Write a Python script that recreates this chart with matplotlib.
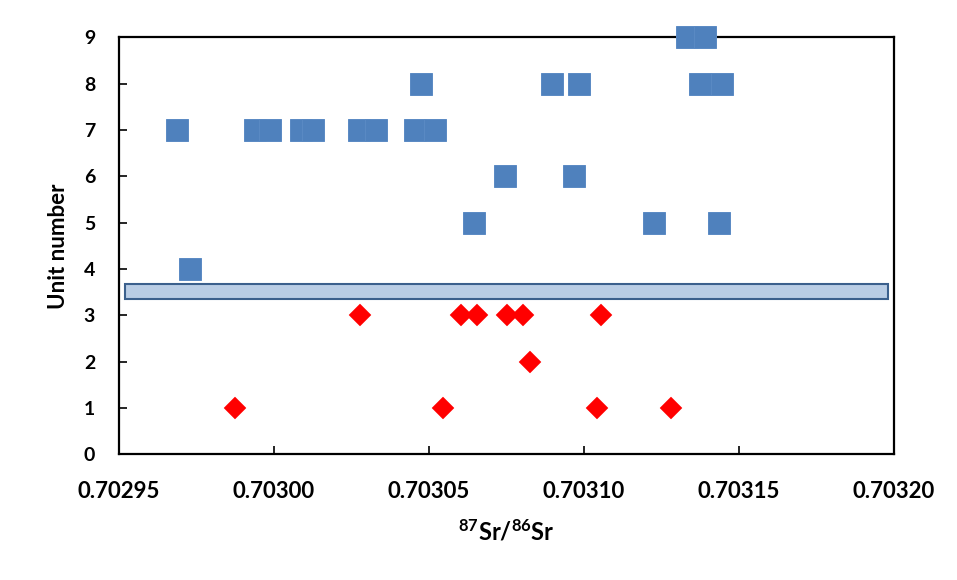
import matplotlib
matplotlib.use("Agg")
import matplotlib.pyplot as plt
from matplotlib.patches import Rectangle

# 87Sr/86Sr の値
upper_sr = [0.7029689, 0.7029941, 0.7029987, 0.7030089, 0.7030128, 0.7030274, 0.7030330,
            0.7030457, 0.7030519, 0.7029730, 0.7030474, 0.7030899, 0.7030986, 0.7031374,
            0.7031445, 0.7031332, 0.7031392, 0.7030746, 0.7030970, 0.7030647, 0.7031226,
            0.7031436]
upper_unit = [7, 7, 7, 7, 7, 7, 7,
              7, 7, 4, 8, 8, 8, 8,
              8, 9, 9, 6, 6, 5, 5,
              5]

lower_sr = [0.7030278, 0.7030604, 0.7030656, 0.7030751, 0.7030804, 0.7031055,
            0.7030827,
            0.7029875, 0.7030545, 0.7031042, 0.7031281]
lower_unit = [3, 3, 3, 3, 3, 3,
              2,
              1, 1, 1, 1]

# 区切りの帯
band_x = (0.702952, 0.703198)
band_y = (3.35, 3.68)

x_ticks = [0.70295, 0.70300, 0.70305, 0.70310, 0.70315, 0.70320]
y_ticks = list(range(0, 10))

plt.rcParams['font.family'] = ['Lato', 'DejaVu Sans']
plt.rcParams['font.weight'] = 'bold'
plt.rcParams['mathtext.fontset'] = 'custom'
plt.rcParams['mathtext.rm'] = 'Lato:bold'
plt.rcParams['mathtext.bf'] = 'Lato:bold'
plt.rcParams['mathtext.default'] = 'bf'

fig = plt.figure( figsize=( 9.57, 5.80 ), dpi=100 )
ax = fig.add_axes([0.124, 0.2167, 0.810, 0.719])

ax.add_patch( Rectangle(( band_x[0], band_y[0] ), band_x[1] - band_x[0], band_y[1] - band_y[0],
                        facecolor='#b9cde5', edgecolor='#3b608d', linewidth=1.5, zorder=2 ))

ax.plot( upper_sr, upper_unit, linestyle='none', marker='s', markersize=16,
         markerfacecolor='#4f81bd', markeredgecolor='#5a8ac4', markeredgewidth=0.7,
         clip_on=False, zorder=3 )
ax.plot( lower_sr, lower_unit, linestyle='none', marker='D', markersize=10.7,
         markerfacecolor='#ff0000', markeredgecolor='#ff0000', markeredgewidth=0.3,
         clip_on=False, zorder=3 )

ax.set_xlim( 0.70295, 0.70320 )
ax.set_ylim( 0, 9 )
ax.set_xticks( x_ticks )
ax.set_xticklabels( [f"{v:.5f}" for v in x_ticks] )
ax.set_yticks( y_ticks )

for s in ax.spines.values():
    s.set_linewidth( 1.6 )
    s.set_color( 'black' )

ax.tick_params( axis='both', direction='in', length=6, width=1.2, color='black' )
ax.tick_params( axis='x', labelsize=16, pad=19 )
ax.tick_params( axis='y', labelsize=14, pad=17 )

ax.set_xlabel( r'$^{87}$Sr/$^{86}$Sr', fontsize=17, fontweight='bold' )
ax.xaxis.set_label_coords( 0.5, -0.186 )
ax.xaxis.label.set_va( 'center' )
ax.set_ylabel( 'Unit number', fontsize=16, fontweight='bold' )
ax.yaxis.set_label_coords( -0.078, 0.5 )
ax.yaxis.label.set_va( 'center' )

fig.savefig( 'out.png', dpi=100 )
